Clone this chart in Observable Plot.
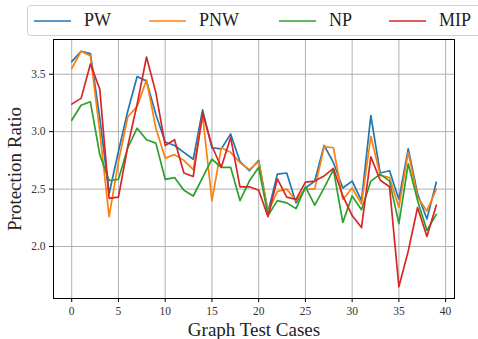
<!DOCTYPE html>
<html><head><meta charset="utf-8">
<script src="https://cdn.jsdelivr.net/npm/d3@7"></script>
<script src="https://cdn.jsdelivr.net/npm/@observablehq/plot@0.6"></script>
<style>
body{margin:0;background:#fff;}
#wrap{position:relative;width:478px;height:339px;overflow:hidden;font-family:"Liberation Serif",serif;}
#chart{position:absolute;left:0;top:0;}
#chart svg text{font-family:"Liberation Serif",serif !important;}
#legend{position:absolute;left:27px;top:5px;width:470px;height:29px;border:1px solid #d0d0d0;border-radius:4px;background:#fff;}
.item{position:absolute;top:0;height:29px;display:flex;align-items:center;font-size:18px;font-weight:normal;color:#222;}
.item svg{margin-right:13px;}
</style></head><body><div id="wrap"><div id="chart"></div><div id="legend"></div></div>
<script>
const seriesNames = ["PW", "PNW", "NP", "MIP"];
const seriesColors = ["#1f77b4", "#ff7f0e", "#2ca02c", "#d62728"];
const xTicks = [0, 5, 10, 15, 20, 25, 30, 35, 40];
const yTicks = [2.0, 2.5, 3.0, 3.5];

const PW = [3.61, 3.70, 3.68, 3.12, 2.46, 2.83, 3.18, 3.48, 3.44, 3.15,
            2.91, 2.88, 2.82, 2.76, 3.19, 2.86, 2.85, 2.98, 2.74, 2.66,
            2.75, 2.30, 2.63, 2.64, 2.38, 2.51, 2.57, 2.88, 2.73, 2.51,
            2.57, 2.40, 3.14, 2.64, 2.66, 2.41, 2.85, 2.46, 2.24, 2.56];
const PNW = [3.55, 3.70, 3.66, 3.00, 2.26, 2.74, 3.13, 3.22, 3.45, 3.03,
             2.77, 2.80, 2.75, 2.67, 3.14, 2.40, 2.86, 2.82, 2.73, 2.67,
             2.74, 2.30, 2.48, 2.50, 2.40, 2.50, 2.50, 2.87, 2.86, 2.41,
             2.51, 2.37, 2.96, 2.62, 2.60, 2.34, 2.82, 2.43, 2.31, 2.50];
const NP = [3.10, 3.23, 3.26, 2.80, 2.575, 2.585, 2.86, 3.03, 2.93, 2.90,
            2.585, 2.60, 2.49, 2.44, 2.60, 2.76, 2.69, 2.69, 2.40, 2.57,
            2.69, 2.27, 2.40, 2.38, 2.33, 2.52, 2.36, 2.51, 2.67, 2.21,
            2.44, 2.32, 2.57, 2.63, 2.57, 2.20, 2.72, 2.40, 2.14, 2.28];
const MIP = [3.24, 3.29, 3.59, 3.37, 2.42, 2.43, 2.875, 3.24, 3.65, 3.34,
             2.88, 2.93, 2.64, 2.61, 3.16, 2.875, 2.69, 2.95, 2.52, 2.52,
             2.49, 2.26, 2.59, 2.43, 2.41, 2.56, 2.57, 2.615, 2.68, 2.44,
             2.27, 2.165, 2.78, 2.577, 2.52, 1.65, 1.96, 2.34, 2.087, 2.36];

const seriesValues = [PW, PNW, NP, MIP];
const rows = seriesNames.flatMap((name, k) => seriesValues[k].map((v, i) => ({x: i, y: v, s: name})));

const chart = Plot.plot({
  width: 478, height: 339,
  marginLeft: 53, marginRight: 24, marginTop: 39, marginBottom: 41,
  style: {fontFamily: "Liberation Serif, serif", fontSize: "11.5px", color: "#000", background: "transparent"},
  x: {domain: [-1.95, 40.95]},
  y: {domain: [1.5475, 3.8025]},
  color: {domain: seriesNames, range: seriesColors},
  marks: [
    Plot.gridX(xTicks, {stroke: "#b0b0b0", strokeOpacity: 1, strokeWidth: 1}),
    Plot.gridY(yTicks, {stroke: "#b0b0b0", strokeOpacity: 1, strokeWidth: 1}),
    Plot.line(rows, {x: "x", y: "y", z: "s", stroke: "s", strokeWidth: 1.7}),
    Plot.frame({stroke: "#000", strokeWidth: 1}),
    Plot.axisX(xTicks, {tickSize: 4, tickPadding: 4, fontSize: 11.5, fill: "#333", label: "Graph Test Cases", labelAnchor: "center", labelArrow: "none", labelOffset: 37, tickFormat: d => String(d)}),
    Plot.axisY(yTicks, {tickSize: 4, tickPadding: 4, fontSize: 11.5, fill: "#333", label: "Protection Ratio", labelAnchor: "center", labelArrow: "none", labelOffset: 46, tickFormat: d => d.toFixed(1)})
  ]
});
document.getElementById("chart").appendChild(chart);
chart.querySelectorAll("[aria-label='x-axis label'], [aria-label='y-axis label']").forEach(g => { g.setAttribute("font-size", "19"); g.setAttribute("fill", "#222"); });

const legend = document.getElementById("legend");
const offsets = [6, 121, 251, 361];
seriesNames.forEach((name, k) => {
  const item = document.createElement("div");
  item.className = "item";
  item.style.left = offsets[k] + "px";
  item.innerHTML = `<svg width="37" height="4"><line x1="0" x2="37" y1="2" y2="2" stroke="${seriesColors[k]}" stroke-width="1.7"/></svg><span>${name}</span>`;
  legend.appendChild(item);
});
</script></body></html>
